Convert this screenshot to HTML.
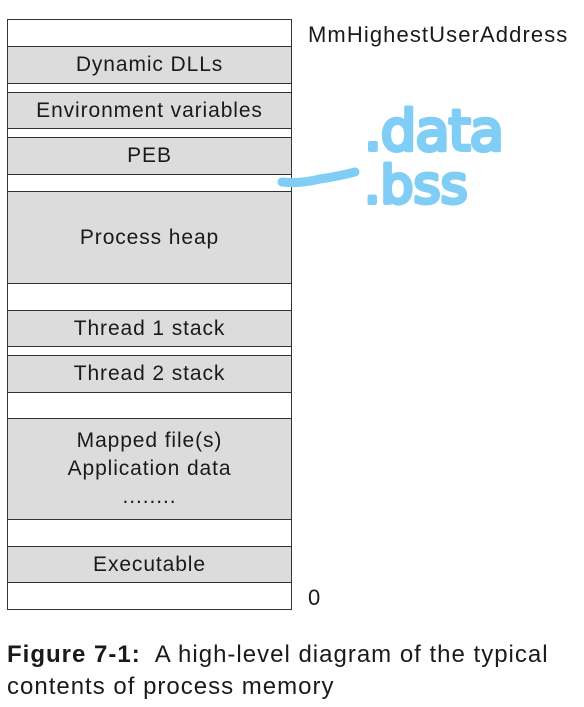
<!DOCTYPE html>
<html><head><style>
body{margin:0;width:584px;height:707px;background:#fff;position:relative;overflow:hidden;font-family:"Liberation Sans","DejaVu Sans",sans-serif;color:#1a1a1a}
.b{position:absolute;left:7px;width:285px;border:1px solid #333;box-sizing:border-box;display:flex;align-items:center;justify-content:center;font-size:21px;letter-spacing:0.9px;text-align:center;line-height:28px}
.g{background:#dcdcdc}
.w{background:#fff}
.t{position:absolute;font-size:22px;letter-spacing:0.9px}
</style></head><body>
<div class="b w" style="top:19px;height:28px"></div>
<div class="b g" style="top:46px;height:38px">Dynamic DLLs</div>
<div class="b w" style="top:83px;height:10px"></div>
<div class="b g" style="top:92px;height:37px">Environment variables</div>
<div class="b w" style="top:128px;height:10px"></div>
<div class="b g" style="top:137px;height:38px">PEB</div>
<div class="b w" style="top:174px;height:18px"></div>
<div class="b g" style="top:191px;height:93px">Process heap</div>
<div class="b w" style="top:283px;height:28px"></div>
<div class="b g" style="top:310px;height:37px">Thread 1 stack</div>
<div class="b w" style="top:346px;height:10px"></div>
<div class="b g" style="top:355px;height:38px">Thread 2 stack</div>
<div class="b w" style="top:392px;height:27px"></div>
<div class="b g" style="top:418px;height:102px">Mapped file(s)<br>Application data<br>........</div>
<div class="b w" style="top:519px;height:28px"></div>
<div class="b g" style="top:546px;height:37px">Executable</div>
<div class="b w" style="top:582px;height:28px"></div>
<div class="t" style="left:308px;top:22px;letter-spacing:1.1px">MmHighestUserAddress</div>
<div class="t" style="left:308px;top:585px">0</div>
<svg style="position:absolute;left:0;top:0" width="584" height="707">
<path d="M282 182 Q300 184 320 179 Q340 176 355 172" stroke="#80cdf5" stroke-width="9" fill="none" stroke-linecap="round"/>
<text x="364" y="150" font-family="DejaVu Sans,sans-serif" font-size="56" fill="#80cdf5" stroke="#80cdf5" stroke-width="4" stroke-linejoin="round" letter-spacing="-1">.data</text>
<text x="364" y="203" font-family="DejaVu Sans,sans-serif" font-size="52" fill="#80cdf5" stroke="#80cdf5" stroke-width="4" stroke-linejoin="round" letter-spacing="0">.bss</text>
</svg>
<div class="t" style="left:7px;top:639px;font-size:24px;letter-spacing:1px;line-height:32px"><b>Figure 7-1:</b>&nbsp; A high-level diagram of the typical<br>contents of process memory</div>
</body></html>
